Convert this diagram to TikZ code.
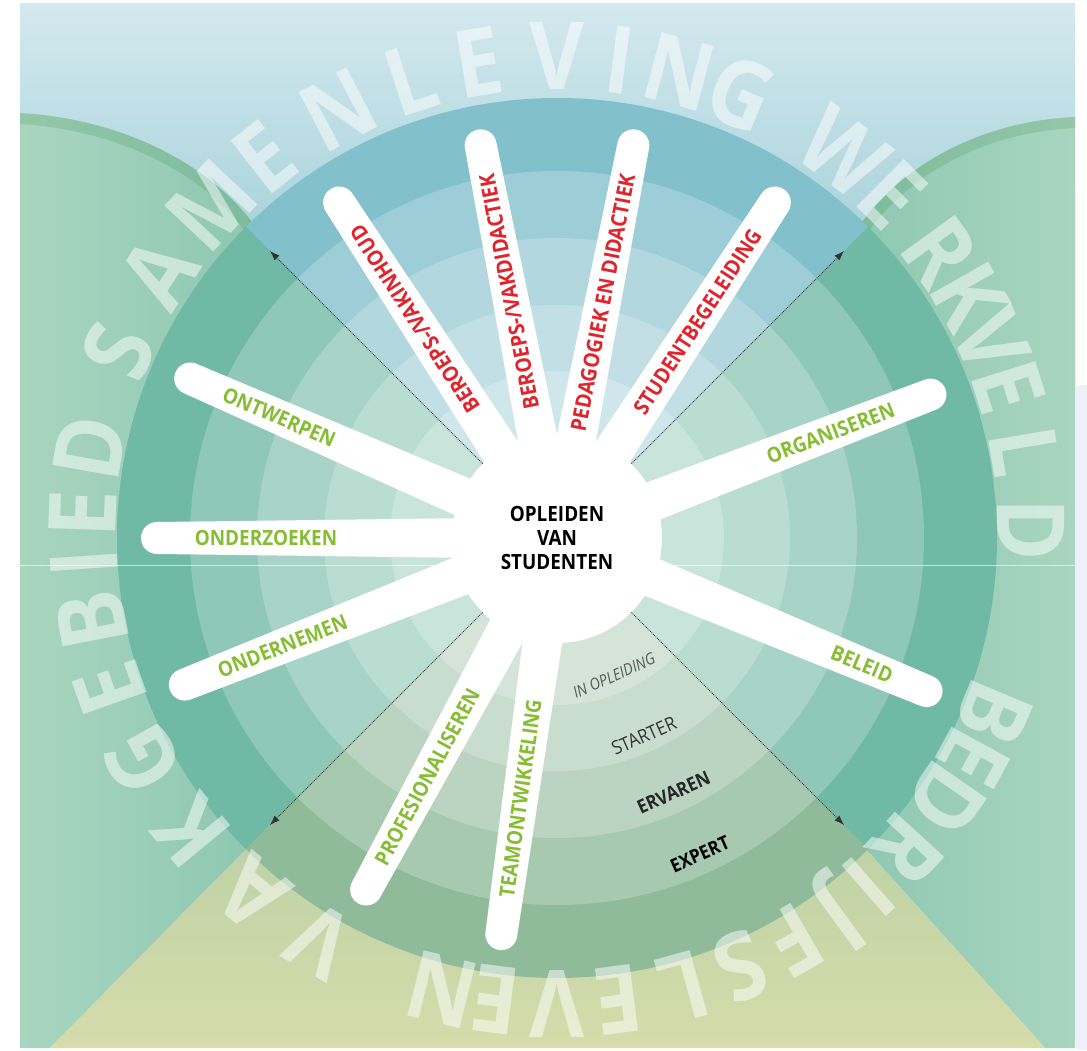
\documentclass[tikz,border=0pt]{standalone}
\usepackage{fontspec}
\setmainfont{Open Sans}
\newfontfamily\lblfont{Open Sans}[FakeStretch=0.9]
\newfontfamily\ringfont{Open Sans}[FakeStretch=0.9]
\usetikzlibrary{arrows.meta}

\definecolor{lblred}{HTML}{E2232B}
\definecolor{lblgreen}{HTML}{86BD32}
\definecolor{skytop}{HTML}{D3E9EE}
\definecolor{skylow}{HTML}{8CC3CF}
\definecolor{fieldlight}{HTML}{A9D5C0}
\definecolor{fielddark}{HTML}{6AB6A0}
\definecolor{sandlow}{HTML}{D6DCAA}
\definecolor{sandtop}{HTML}{9BC3A2}
\definecolor{bandtop}{HTML}{82C0CC}
\definecolor{bandside}{HTML}{70B9A4}
\definecolor{bandlow}{HTML}{8FBB9B}
\definecolor{lavender}{HTML}{EEF0F8}

\begin{document}
\begin{tikzpicture}[x=1pt, y=1pt,
  spoke/.style={fill=white},
  ring/.style={fill=white, fill opacity=0.22},
  hub/.style={circle, fill=white, minimum size=210pt, inner sep=0pt, align=center,
    font=\lblfont\bfseries\fontsize{21}{24}\selectfont},
  redlbl/.style={inner sep=0pt, text=lblred,
    font=\lblfont\bfseries\fontsize{21.5}{21.5}\selectfont},
  greenlbl/.style={inner sep=0pt, text=lblgreen,
    font=\lblfont\bfseries\fontsize{21}{21}\selectfont},
  lvl/.style={inner sep=0pt, rotate=24},
  ringletter/.style={inner sep=0pt, text=white, text opacity=0.5,
    font=\ringfont\bfseries\fontsize{94}{94}\selectfont},
  dotarrow/.style={densely dotted, line width=0.9pt, draw=black!80,
    -{Latex[length=10pt, width=7pt]}}
]
\useasboundingbox (0,0) rectangle (1087,1050);
\fill[white] (0,0) rectangle (1087,1050);

% the four fields round the circle
\shade[top color=skytop, bottom color=skylow] (20,650) rectangle (1075,1046);
\shade[left color=fieldlight, right color=fielddark]
  (20,937) .. controls (140,930) and (235,870) .. (270,799)
  -- (557,512) -- (270,225) -- (50,2) -- (20,2) -- cycle;
\shade[left color=fielddark, right color=fieldlight]
  (1075,933) .. controls (965,928) and (880,870) .. (844,799)
  -- (557,512) -- (844,225) -- (1045,2) -- (1075,2) -- cycle;
\shade[top color=sandtop, bottom color=sandlow]
  (557,512) -- (270,225) -- (50,2) -- (1045,2) -- (844,225) -- cycle;
% shadow under the rims of the side fields
\begin{scope}
  \clip (20,937) .. controls (140,930) and (235,870) .. (270,799) -- (270,600) -- (20,600) -- cycle;
  \draw[line width=22pt, black!60!green, opacity=0.12]
    (20,937) .. controls (140,930) and (235,870) .. (270,799);
\end{scope}
\begin{scope}
  \clip (1075,933) .. controls (965,928) and (880,870) .. (844,799) -- (844,600) -- (1075,600) -- cycle;
  \draw[line width=22pt, black!60!green, opacity=0.12]
    (1075,933) .. controls (965,928) and (880,870) .. (844,799);
\end{scope}
\fill[lavender, rounded corners=6pt] (1075,0) rectangle (1095,665);

\begin{scope}[shift={(557,512)}]
% rings
\fill[bandtop] (0,0) -- (45:440) arc[start angle=45, end angle=135, radius=440] -- cycle;
\fill[bandside] (0,0) -- (135:440) arc[start angle=135, end angle=225, radius=440] -- cycle;
\fill[bandlow] (0,0) -- (225:440) arc[start angle=225, end angle=315, radius=440] -- cycle;
\fill[bandside] (0,0) -- (-45:440) arc[start angle=-45, end angle=45, radius=440] -- cycle;
\foreach \r in {367,300,233,167}
  \fill[ring] (0,0) circle[radius=\r];
\draw[white, opacity=0.6, line width=1pt] (-537,-28) -- (518,-28);
\end{scope}

% big words round the rim
\begin{scope}[shift={(557,520)}]
\foreach \l/\a in {S/157.8, A/147.1, M/136.8, E/128.1, N/117.5, L/108, E/99.5, V/90, I/82.4, N/75.1, G/67.2,
    W/52.9, E/45, R/36, K/29.5, V/23.5, E/17.5, L/9.5, D/0,
    B/-22.7, E/-28.6, D/-34.7, R/-42.5, I/-48.9, J/-53.9, F/-59.9, S/-67.2, L/-74.6, E/-82.6, V/-90, E/-97.4, N/-104,
    V/-120, A/-130, K/-140.5, G/-151, E/-160.5, B/-169, I/-176, E/-182, D/-190}
  \node[ringletter, rotate=\a-90] at (\a:474) {\l};
\end{scope}

\begin{scope}[shift={(557,512)}]
% spokes
\foreach \a in {21,57,79,101,123,156.5,180,201.5,241.5,262,337.5}
  \fill[spoke, rotate=\a] (0,-21) -- (400,-16)
    arc[start angle=-90, end angle=90, radius=16] -- (0,21) -- cycle;

\node[hub] (hub) at (0,0) {OPLEIDEN\\VAN\\STUDENTEN};

\foreach \a/\n in {45/ne, 135/nw, 225/sw, 315/se} {
  \coordinate (\n) at (\a:406);
  \draw[dotarrow] (hub.\a) -- (\n);
}

% labels on the spokes
\node[redlbl, rotate=123] at (123:261) {BEROEPS-/VAKINHOUD};
\node[redlbl, rotate=101] at (101:251) {BEROEPS-/VAKDIDACTIEK};
\node[redlbl, rotate=79] at (79:240) {PEDAGOGIEK EN DIDACTIEK};
\node[redlbl, rotate=57] at (57:258) {STUDENTBEGELEIDING};
\node[greenlbl, rotate=21] at (21:293) {ORGANISEREN};
\node[greenlbl, rotate=-22.5] at (-22.5:330) {BELEID};
\node[greenlbl, rotate=-23.5] at (156.5:303) {ONTWERPEN};
\node[greenlbl] at (180:291) {ONDERZOEKEN};
\node[greenlbl, rotate=21.5] at (201.5:295) {ONDERNEMEN};
\node[greenlbl, rotate=61.5] at (241.5:272) {PROFESIONALISEREN};
\node[greenlbl, rotate=82] at (262:263) {TEAMONTWIKKELING};

% levels
\node[lvl, text=black!65, font=\lblfont\itshape\fontsize{16}{16}\selectfont] at (-67.5:149) {IN OPLEIDING};
\node[lvl, text=black!80, font=\lblfont\fontsize{19}{19}\selectfont] at (-66.3:216) {STARTER};
\node[lvl, text=black!85, font=\lblfont\bfseries\fontsize{19}{19}\selectfont] at (-65.4:280) {ERVAREN};
\node[lvl, text=black, font=\lblfont\bfseries\fontsize{19}{19}\selectfont] at (-65.7:347) {EXPERT};
\end{scope}
\end{tikzpicture}
\end{document}
